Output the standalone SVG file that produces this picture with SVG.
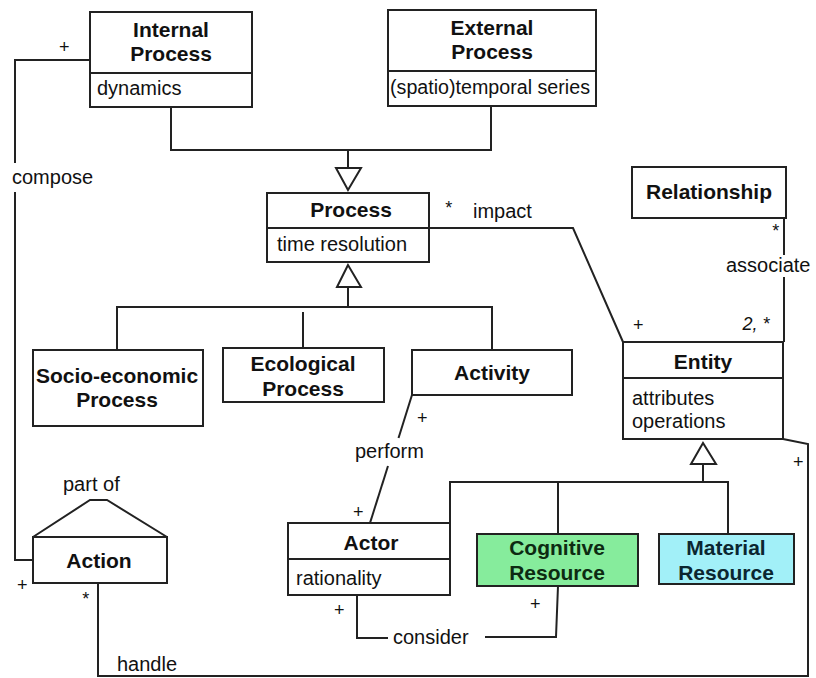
<svg xmlns="http://www.w3.org/2000/svg" width="816" height="678" viewBox="0 0 816 678">
  <style>
    .box { fill: #fff; stroke: #222; stroke-width: 2; }
    .ln { fill: none; stroke: #222; stroke-width: 2; stroke-linejoin: miter; }
    .tri { fill: #fff; stroke: #222; stroke-width: 2; }
    .t { font-family: "Liberation Sans", Arial, Helvetica, sans-serif; font-weight: bold; font-size: 21px; fill: #111; text-anchor: middle; }
    .a { font-family: "Liberation Sans", Arial, Helvetica, sans-serif; font-size: 20px; fill: #111; }
    .lbl { font-family: "Liberation Sans", Arial, Helvetica, sans-serif; font-size: 20px; fill: #111; }
    .m { font-family: "Liberation Sans", Arial, Helvetica, sans-serif; font-size: 18px; font-style: italic; fill: #111; text-anchor: middle; }
  </style>
  <rect width="816" height="678" fill="#fff"/>

  <!-- connectors -->
  <g id="connectors">
    <!-- generalization: Internal/External Process -> Process -->
    <polyline class="ln" points="171,107 171,150 491,150 491,106"/>
    <line class="ln" x1="348" y1="150" x2="348" y2="168"/>
    <polygon class="tri" points="336,168 361,168 348,190"/>

    <!-- generalization: subclasses -> Process -->
    <polygon class="tri" points="348,265 337,287 361,287"/>
    <line class="ln" x1="348" y1="287" x2="348" y2="307"/>
    <polyline class="ln" points="117,350 117,307 492,307 492,350"/>
    <line class="ln" x1="303" y1="312" x2="303" y2="348"/>

    <!-- generalization: resources / actor -> Entity -->
    <polygon class="tri" points="703,443 691,464 716,464"/>
    <line class="ln" x1="703" y1="464" x2="703" y2="482"/>
    <polyline class="ln" points="450,523 450,482 728,482 728,534"/>
    <line class="ln" x1="558" y1="482" x2="558" y2="534"/>

    <!-- compose: Internal Process - Action -->
    <polyline class="ln" points="90,60 15,60 15,163"/>
    <polyline class="ln" points="15,192 15,560 33,560"/>

    <!-- part of (self association on Action) -->
    <polyline class="ln" points="33,537 90,500 107,500 167,537"/>

    <!-- impact: Process - Entity -->
    <polyline class="ln" points="429,228 573,228 623,342"/>

    <!-- associate: Relationship - Entity -->
    <line class="ln" x1="784" y1="218" x2="784" y2="255"/>
    <line class="ln" x1="784" y1="277" x2="784" y2="342"/>

    <!-- perform: Activity - Actor -->
    <line class="ln" x1="412" y1="395" x2="398.5" y2="438"/>
    <line class="ln" x1="388" y1="466" x2="370" y2="523"/>

    <!-- consider: Actor - Cognitive Resource -->
    <polyline class="ln" points="357,595 357,638 388,638"/>
    <polyline class="ln" points="485,637 556,637 558,586"/>

    <!-- handle: Action - Entity -->
    <polyline class="ln" points="98,583 98,676 808,676 808,444 783,439"/>
  </g>

  <!-- nodes -->
  <g id="internal-process">
    <rect class="box" x="90" y="12" width="162" height="95"/>
    <line class="ln" x1="90" y1="73" x2="252" y2="73"/>
    <text class="t" x="171" y="37">Internal</text>
    <text class="t" x="171" y="61">Process</text>
    <text class="a" x="97" y="95">dynamics</text>
  </g>

  <g id="external-process">
    <rect class="box" x="388" y="10" width="208" height="96"/>
    <line class="ln" x1="388" y1="71" x2="596" y2="71"/>
    <text class="t" x="492" y="35">External</text>
    <text class="t" x="492" y="59">Process</text>
    <text class="a" x="390" y="94" textLength="200" lengthAdjust="spacingAndGlyphs">(spatio)temporal series</text>
  </g>

  <g id="process">
    <rect class="box" x="267" y="193" width="162" height="69"/>
    <line class="ln" x1="267" y1="228" x2="429" y2="228"/>
    <text class="t" x="351" y="217">Process</text>
    <text class="a" x="277" y="251">time resolution</text>
  </g>

  <g id="relationship">
    <rect class="box" x="632" y="167" width="154" height="51"/>
    <text class="t" x="709" y="199">Relationship</text>
  </g>

  <g id="socio-economic-process">
    <rect class="box" x="33" y="350" width="170" height="76"/>
    <text class="t" x="117" y="383">Socio-economic</text>
    <text class="t" x="117" y="407">Process</text>
  </g>

  <g id="ecological-process">
    <rect class="box" x="223" y="348" width="161" height="54"/>
    <text class="t" x="303" y="371">Ecological</text>
    <text class="t" x="303" y="396">Process</text>
  </g>

  <g id="activity">
    <rect class="box" x="412" y="350" width="160" height="45"/>
    <text class="t" x="492" y="380">Activity</text>
  </g>

  <g id="entity">
    <rect class="box" x="623" y="342" width="160" height="97"/>
    <line class="ln" x1="623" y1="378" x2="783" y2="378"/>
    <text class="t" x="703" y="369">Entity</text>
    <text class="a" x="632" y="405">attributes</text>
    <text class="a" x="632" y="428">operations</text>
  </g>

  <g id="actor">
    <rect class="box" x="288" y="523" width="162" height="72"/>
    <line class="ln" x1="288" y1="559" x2="450" y2="559"/>
    <text class="t" x="371" y="550">Actor</text>
    <text class="a" x="296" y="585">rationality</text>
  </g>

  <g id="cognitive-resource">
    <rect class="box" x="477" y="534" width="161" height="52" style="fill:#86ec9c"/>
    <text class="t" x="557" y="555" style="fill:#0d2a12">Cognitive</text>
    <text class="t" x="557" y="580" style="fill:#0d2a12">Resource</text>
  </g>

  <g id="material-resource">
    <rect class="box" x="659" y="534" width="135" height="50" style="fill:#a2f0f8"/>
    <text class="t" x="726" y="555" style="fill:#0b2630">Material</text>
    <text class="t" x="726" y="580" style="fill:#0b2630">Resource</text>
  </g>

  <g id="action">
    <rect class="box" x="33" y="537" width="134" height="46"/>
    <text class="t" x="99" y="568">Action</text>
  </g>

  <!-- association labels -->
  <g id="labels">
    <text class="lbl" x="12" y="184">compose</text>
    <text class="lbl" x="473" y="218">impact</text>
    <text class="lbl" x="726" y="272">associate</text>
    <text class="lbl" x="355" y="458">perform</text>
    <text class="lbl" x="63" y="491">part of</text>
    <text class="lbl" x="393" y="644">consider</text>
    <text class="lbl" x="117" y="671">handle</text>
  </g>

  <!-- multiplicities -->
  <g id="multiplicities">
    <text class="m" x="64" y="53">+</text>
    <text class="m" x="448" y="214">*</text>
    <text class="m" x="775" y="237">*</text>
    <text class="m" x="638" y="331">+</text>
    <text class="m" x="756" y="330">2, *</text>
    <text class="m" x="422" y="424">+</text>
    <text class="m" x="358" y="518">+</text>
    <text class="m" x="798" y="468">+</text>
    <text class="m" x="535" y="610">+</text>
    <text class="m" x="339" y="616">+</text>
    <text class="m" x="22" y="591">+</text>
    <text class="m" x="85" y="605">*</text>
  </g>
</svg>
